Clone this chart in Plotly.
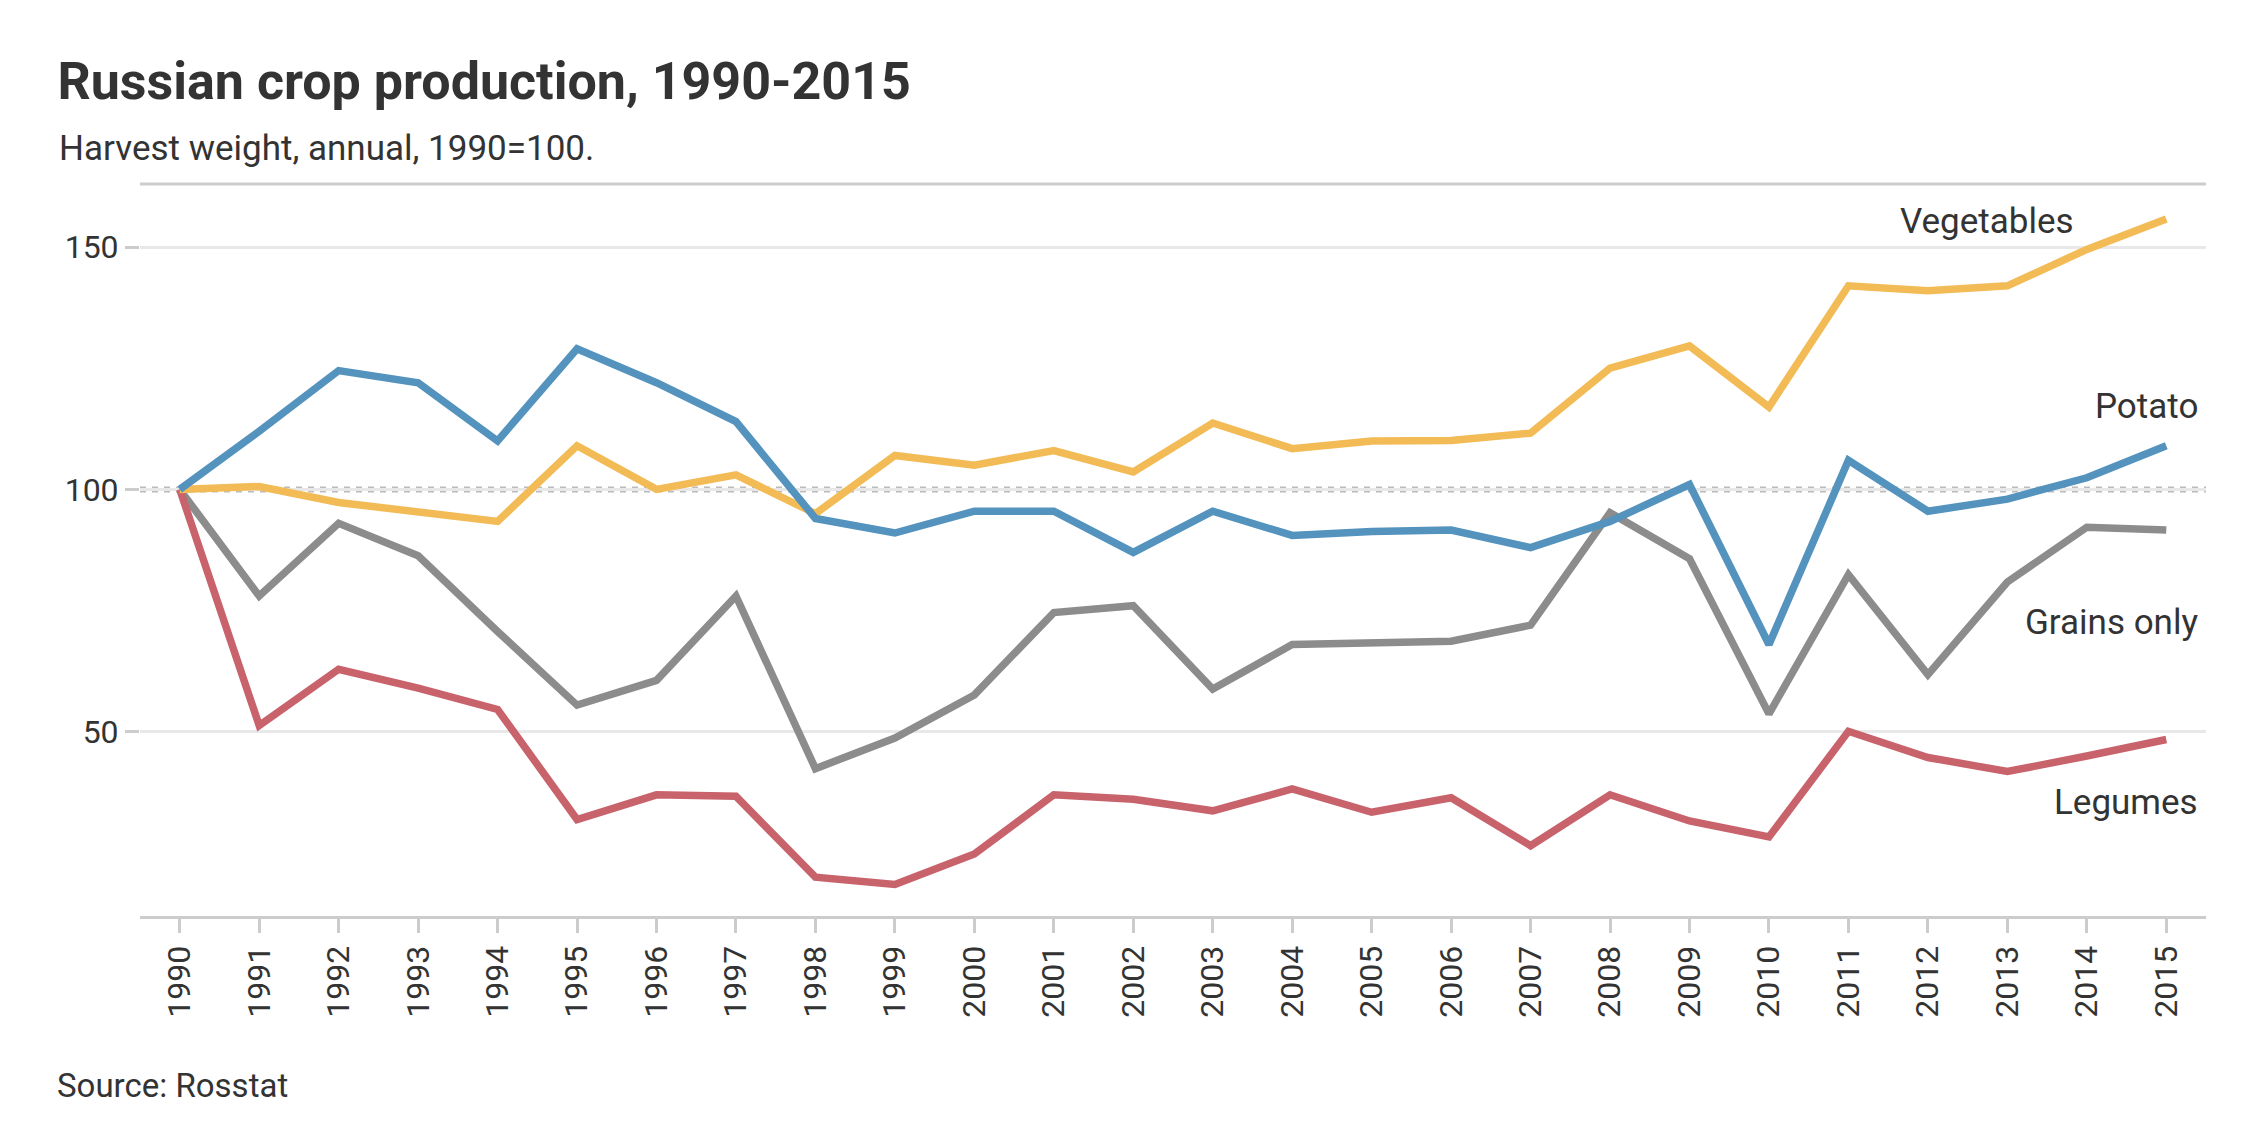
import plotly.graph_objects as go

years = list(range(1990, 2016))
potato = [100, 112, 124.5, 122, 110, 129, 122, 114, 94, 91, 95.5, 95.5, 87, 95.5, 90.5, 91.3, 91.6, 88,
          93.4, 101, 68, 106, 95.5, 98, 102.4, 109]
vegetables = [100, 100.6, 97.3, 95.5, 93.4, 109, 100, 103, 95, 107, 105, 108, 103.6, 113.7, 108.4, 110,
              110.1, 111.6, 125, 129.6, 117, 142, 141, 142, 149.5, 155.8]
grains = [100, 78, 93, 86.3, 70.7, 55.5, 60.6, 78, 42.4, 48.7, 57.6, 74.6, 76, 58.8, 68, 68.4, 68.7, 72,
          95.2, 85.7, 53.7, 82.4, 61.8, 80.9, 92.2, 91.6]
legumes = [100, 51.3, 62.9, 59, 54.6, 31.9, 37, 36.7, 20, 18.5, 24.8, 37, 36.1, 33.7, 38.2, 33.4, 36.4,
           26.5, 37, 31.6, 28.3, 50.1, 44.7, 41.8, 45, 48.4]

series = [("Grains only", grains, "#8c8c8c"), ("Legumes", legumes, "#c8636c"),
          ("Vegetables", vegetables, "#f2bb55"), ("Potato", potato, "#5393be")]
labels = [("Vegetables", 2013.86, 155.2), ("Potato", 2015.42, 117),
          ("Grains only", 2015.42, 72.5), ("Legumes", 2015.42, 35.5)]

font = "Roboto"
fig = go.Figure()
for name, vals, col in series:
    fig.add_trace(go.Scatter(x=years, y=vals, mode="lines", name=name,
                             line=dict(color=col, width=7.5)))

fig.add_hline(y=100, line=dict(color="#bbbbbb", width=6, dash="dot"), layer="below")

for text, x, y in labels:
    fig.add_annotation(x=x, y=y, text=text, showarrow=False, xanchor="right",
                       font=dict(family=font, size=35, color="#333333"))

fig.add_shape(type="line", xref="paper", yref="paper", x0=0, x1=1, y0=1, y1=1,
              line=dict(color="#cccccc", width=3))

fig.update_layout(
    width=2245, height=1123, showlegend=False,
    paper_bgcolor="white", plot_bgcolor="white",
    margin=dict(l=132, r=47, t=176, b=215),
    font=dict(family=font, color="#333333"),
    title=dict(text="<b>Russian crop production, 1990-2015</b>", x=0.022, xanchor="left",
               y=0.935, yanchor="middle", font=dict(size=52, color="#333333")),
    xaxis=dict(range=[1989.5, 2015.5], tickmode="array", tickvals=years, ticktext=[str(y) for y in years],
               tickangle=-90, tickfont=dict(size=32, color="#333333"), showgrid=False,
               ticks="outside", ticklen=14, tickwidth=3, tickcolor="#cccccc",
               showline=True, linecolor="#cccccc", linewidth=3, zeroline=False),
    yaxis=dict(range=[12, 163], tickvals=[50, 100, 150], tickfont=dict(size=32, color="#333333"),
               showgrid=True, gridcolor="#e8e8e8", gridwidth=3, zeroline=False,
               ticks="outside", ticklen=14, tickwidth=3, tickcolor="#cccccc"),
)
fig.add_annotation(xref="paper", yref="paper", x=-0.04, y=1.048, xanchor="left", yanchor="middle",
                   text="Harvest weight, annual, 1990=100.", showarrow=False,
                   font=dict(family=font, size=35, color="#333333"))
fig.add_annotation(xref="paper", yref="paper", x=-0.041, y=-0.232, xanchor="left", yanchor="middle",
                   text="Source: Rosstat", showarrow=False,
                   font=dict(family=font, size=33, color="#333333"))

fig.write_html("out.html")
